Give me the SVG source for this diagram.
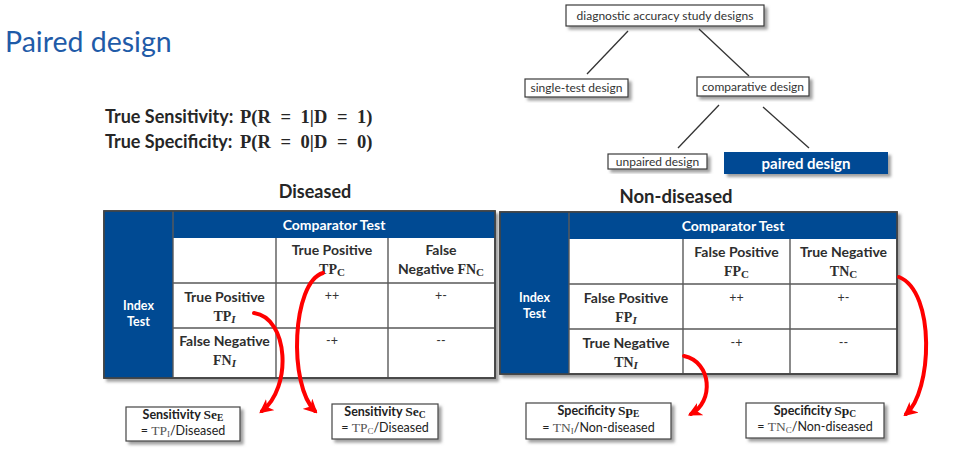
<svg xmlns="http://www.w3.org/2000/svg" width="971" height="469" viewBox="0 0 971 469">
  <style>
    .sans { font-family: Lato, "Open Sans", "Liberation Sans", sans-serif; }
    .math { font-family: "Liberation Serif", "DejaVu Serif", serif; font-weight: bold; }
    .title { font-size: 28.5px; fill: #1f5ba8; }
    .formula { font-size: 18px; font-weight: bold; fill: #262626; }
    .prob { font-size: 18.5px; fill: #262626; word-spacing: 5px; }
    .head { font-weight: bold; fill: #262626; text-anchor: middle; }
    .tbox { fill: #fff; stroke: #3a3a3a; stroke-width: 1.2; }
    .tlabel { font-size: 12px; fill: #333; text-anchor: middle; }
    .hdr { fill: #004a93; }
    .grid { stroke: #5a5a5a; stroke-width: 1.4; fill: none; }
    .outer { fill: #fff; stroke: #444; stroke-width: 1.6; }
    .wh { fill: #fff; font-weight: bold; text-anchor: middle; }
    .cell { font-size: 14px; font-weight: bold; fill: #2e2e2e; text-anchor: middle; }
    .sym { font-size: 12.5px; fill: #333; text-anchor: middle; }
    .res { fill: #fff; stroke: #444; stroke-width: 1.2; }
    .rt { font-size: 12.5px; fill: #222; text-anchor: middle; }
    .edge { stroke: #333; stroke-width: 1.3; fill: none; }
    .red { stroke: #f00; stroke-width: 4; fill: none; stroke-linecap: round; marker-end: url(#redhead); }
  </style>
  <defs>
    <filter id="shadow" x="-10%" y="-10%" width="130%" height="140%">
      <feDropShadow dx="3" dy="3" stdDeviation="1.6" flood-color="#777" flood-opacity="0.7"/>
    </filter>
    <marker id="redhead" viewBox="0 0 12 12" refX="9" refY="6" markerWidth="14" markerHeight="14" markerUnits="userSpaceOnUse" orient="auto">
      <path d="M0,0 L12,6 L0,12 L3.5,6 Z" fill="#f00"/>
    </marker>
  </defs>

  <rect width="971" height="469" fill="#fff"/>

  <!-- heading and definitions -->
  <text class="sans title" x="5" y="52">Paired design</text>
  <g id="definitions">
    <text class="sans formula" x="105" y="123">True Sensitivity:</text>
    <text class="math prob" x="240" y="123">P(R = 1|D = 1)</text>
    <text class="sans formula" x="105" y="148">True Specificity:</text>
    <text class="math prob" x="240" y="148">P(R = 0|D = 0)</text>
  </g>
  <text class="sans head" x="315" y="198" font-size="18">Diseased</text>
  <text class="sans head" x="676" y="203" font-size="18.5">Non-diseased</text>

  <!-- design tree -->
  <g id="node-root">
    <rect class="tbox" x="566" y="5" width="198" height="21" filter="url(#shadow)"/>
    <text class="sans tlabel" x="665" y="20" font-size="12.5">diagnostic accuracy study designs</text>
  </g>
  <g id="node-single">
    <rect class="tbox" x="525" y="79" width="103" height="18" filter="url(#shadow)"/>
    <text class="sans tlabel" x="576.5" y="92" font-size="11">single-test design</text>
  </g>
  <g id="node-comparative">
    <rect class="tbox" x="697" y="77" width="112" height="19" filter="url(#shadow)"/>
    <text class="sans tlabel" x="753" y="90.5" font-size="12">comparative design</text>
  </g>
  <g id="node-unpaired">
    <rect class="tbox" x="608" y="154" width="99" height="15" filter="url(#shadow)"/>
    <text class="sans tlabel" x="657.5" y="166" font-size="11.5">unpaired design</text>
  </g>
  <g id="node-paired">
    <rect x="724" y="152" width="164" height="22" fill="#004a94" filter="url(#shadow)"/>
    <text class="sans wh" x="806" y="168.5" font-size="15">paired design</text>
  </g>

  <!-- diseased 2x2 table -->
  <g id="table-diseased">
    <rect class="outer" x="104" y="211" width="391" height="167" filter="url(#shadow)"/>
    <rect class="hdr" x="104" y="211" width="391" height="27"/>
    <rect class="hdr" x="104" y="238" width="69" height="140"/>
    <path class="grid" d="M173,211 V378 M276,238 V378 M388,238 V378 M173,283 H495 M173,328 H495"/>
    <rect x="104" y="211" width="391" height="167" fill="none" stroke="#444" stroke-width="1.6"/>
    <text class="sans wh" x="334" y="230" font-size="14">Comparator Test</text>
    <text class="sans wh" x="138.5" y="310" font-size="12.5">Index</text>
    <text class="sans wh" x="138.5" y="326" font-size="12.5">Test</text>
    <text class="sans cell" x="332" y="255" font-size="13">True Positive</text>
    <text class="math cell" x="332" y="274">TP<tspan font-size="11" dy="2">C</tspan></text>
    <text class="sans cell" x="441" y="255">False</text>
    <text class="sans cell" x="441" y="274">Negative <tspan class="math">FN<tspan font-size="11" dy="2">C</tspan></tspan></text>
    <text class="sans cell" x="224.5" y="302">True Positive</text>
    <text class="math cell" x="224.5" y="321">TP<tspan font-size="11" dy="2" font-style="italic">I</tspan></text>
    <text class="sans cell" x="224.5" y="346">False Negative</text>
    <text class="math cell" x="224.5" y="365">FN<tspan font-size="11" dy="2" font-style="italic">I</tspan></text>
    <text class="sans sym" x="332" y="300">++</text>
    <text class="sans sym" x="441" y="300">+-</text>
    <text class="sans sym" x="332" y="345">-+</text>
    <text class="sans sym" x="441" y="345">--</text>
  </g>

  <!-- non-diseased 2x2 table -->
  <g id="table-nondiseased">
    <rect class="outer" x="500" y="212" width="397" height="162" filter="url(#shadow)"/>
    <rect class="hdr" x="500" y="212" width="397" height="27"/>
    <rect class="hdr" x="500" y="239" width="69" height="135"/>
    <path class="grid" d="M569,212 V374 M683,239 V374 M790,239 V374 M569,284 H897 M569,329 H897"/>
    <rect x="500" y="212" width="397" height="162" fill="none" stroke="#444" stroke-width="1.6"/>
    <text class="sans wh" x="733" y="231" font-size="14">Comparator Test</text>
    <text class="sans wh" x="534.5" y="302" font-size="12.5">Index</text>
    <text class="sans wh" x="534.5" y="318" font-size="12.5">Test</text>
    <text class="sans cell" x="736.5" y="257">False Positive</text>
    <text class="math cell" x="736.5" y="276">FP<tspan font-size="11" dy="2">C</tspan></text>
    <text class="sans cell" x="843.5" y="257">True Negative</text>
    <text class="math cell" x="843.5" y="276">TN<tspan font-size="11" dy="2">C</tspan></text>
    <text class="sans cell" x="626" y="303">False Positive</text>
    <text class="math cell" x="626" y="322">FP<tspan font-size="11" dy="2" font-style="italic">I</tspan></text>
    <text class="sans cell" x="626" y="348">True Negative</text>
    <text class="math cell" x="626" y="367">TN<tspan font-size="11" dy="2" font-style="italic">I</tspan></text>
    <text class="sans sym" x="736.5" y="302">++</text>
    <text class="sans sym" x="843.5" y="302">+-</text>
    <text class="sans sym" x="736.5" y="347">-+</text>
    <text class="sans sym" x="843.5" y="347">--</text>
  </g>

  <!-- result boxes -->
  <g id="se-e">
    <rect class="res" x="126" y="407" width="114" height="34" filter="url(#shadow)"/>
    <text class="sans rt" x="183" y="419"><tspan font-weight="bold">Sensitivity </tspan><tspan class="math" font-size="13.5">Se<tspan font-size="9.5" dy="1.5">E</tspan></tspan></text>
    <text class="sans rt" x="183" y="435">= <tspan font-family="Liberation Serif, serif" fill="#555" font-size="13.5">TP<tspan font-size="9" dy="1.5">I</tspan></tspan><tspan dy="-1.5">/Diseased</tspan></text>
  </g>
  <g id="se-c">
    <rect class="res" x="332" y="404" width="106" height="35" filter="url(#shadow)"/>
    <text class="sans rt" x="385" y="416"><tspan font-weight="bold">Sensitivity </tspan><tspan class="math" font-size="13.5">Se<tspan font-size="9.5" dy="1.5">C</tspan></tspan></text>
    <text class="sans rt" x="385" y="432">= <tspan font-family="Liberation Serif, serif" fill="#555" font-size="13.5">TP<tspan font-size="9" dy="1.5">C</tspan></tspan><tspan dy="-1.5">/Diseased</tspan></text>
  </g>
  <g id="sp-e">
    <rect class="res" x="526" y="403" width="145" height="36" filter="url(#shadow)"/>
    <text class="sans rt" x="598.5" y="415"><tspan font-weight="bold">Specificity </tspan><tspan class="math" font-size="13.5">Sp<tspan font-size="9.5" dy="1.5">E</tspan></tspan></text>
    <text class="sans rt" x="598.5" y="432">= <tspan font-family="Liberation Serif, serif" fill="#555" font-size="13.5">TN<tspan font-size="9" dy="1.5">I</tspan></tspan><tspan dy="-1.5">/Non-diseased</tspan></text>
  </g>
  <g id="sp-c">
    <rect class="res" x="746" y="403" width="138" height="35" filter="url(#shadow)"/>
    <text class="sans rt" x="815" y="415"><tspan font-weight="bold">Specificity </tspan><tspan class="math" font-size="13.5">Sp<tspan font-size="9.5" dy="1.5">C</tspan></tspan></text>
    <text class="sans rt" x="815" y="431">= <tspan font-family="Liberation Serif, serif" fill="#555" font-size="13.5">TN<tspan font-size="9" dy="1.5">C</tspan></tspan><tspan dy="-1.5">/Non-diseased</tspan></text>
  </g>

  <!-- connectors -->
  <g id="connectors">
    <path class="edge" d="M628,31 L587,74"/>
    <path class="edge" d="M699,29 L749,76"/>
    <path class="edge" d="M719,105 L678,148"/>
    <path class="edge" d="M763,107 L809,148"/>
    <path class="red" d="M254,313 C289,318 292,388 262,411"/>
    <path class="red" d="M323,273 C292,282 288,385 315,411"/>
    <path class="red" d="M684,356 C712,362 714,402 691,414"/>
    <path class="red" d="M899,277 C936,292 932,392 906,414"/>
  </g>
</svg>
